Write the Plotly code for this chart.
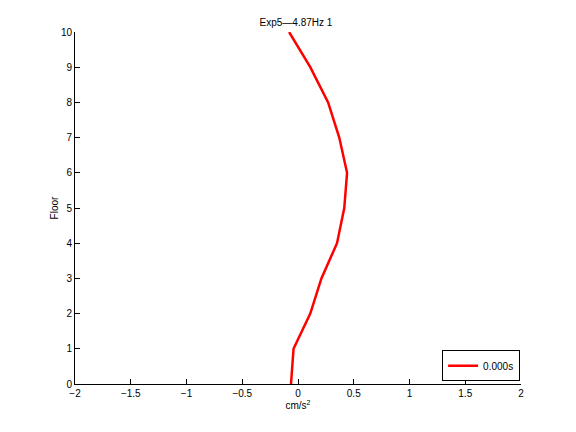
import plotly.graph_objects as go

floors = [0, 1, 2, 3, 4, 5, 6, 7, 8, 9, 10]
accel = [-0.063, -0.04, 0.11, 0.21, 0.35, 0.415, 0.44, 0.37, 0.27, 0.11, -0.08]
series_name = "0.000s"
title_text = "Exp5\u20144.87Hz 1"
x_ticks = [-2, -1.5, -1, -0.5, 0, 0.5, 1, 1.5, 2]
x_ticklabels = ["\u22122", "\u22121.5", "\u22121", "\u22120.5", "0", "0.5", "1", "1.5", "2"]
y_ticks = list(range(0, 11))

fig = go.Figure()
fig.add_trace(go.Scatter(x=accel, y=floors, mode="lines", name=series_name,
                         line=dict(color="#ff0000", width=2.5)))

font = dict(family="Liberation Sans, Arial, sans-serif", size=10, color="black")
fig.update_layout(
    width=576, height=432,
    margin=dict(l=67, r=63, t=24, b=56),
    paper_bgcolor="white", plot_bgcolor="white",
    font=font,
    title=dict(text=title_text, x=0.5, xanchor="center", y=1 - 14 / 432, yanchor="middle",
               font=dict(size=10, color="black")),
    showlegend=True,
    legend=dict(x=0.998, xanchor="right", y=0.008, yanchor="bottom",
                bordercolor="black", borderwidth=1, bgcolor="white",
                font=dict(size=10), itemwidth=30, tracegroupgap=0),
)
fig.update_xaxes(range=[-2, 2], tickvals=x_ticks, ticktext=x_ticklabels,
                 showgrid=False, zeroline=False, showline=True, linecolor="black",
                 linewidth=1, ticks="inside", ticklen=5, tickcolor="black",
                 title=dict(text="cm/s<sup>2</sup>", standoff=3, font=dict(size=10)))
fig.update_yaxes(range=[0, 10], tickvals=y_ticks, showgrid=False, zeroline=False,
                 showline=True, linecolor="black", linewidth=1, ticks="inside",
                 ticklen=5, tickcolor="black",
                 title=dict(text="Floor", standoff=0, font=dict(size=10)))

fig.write_html("out.html")
